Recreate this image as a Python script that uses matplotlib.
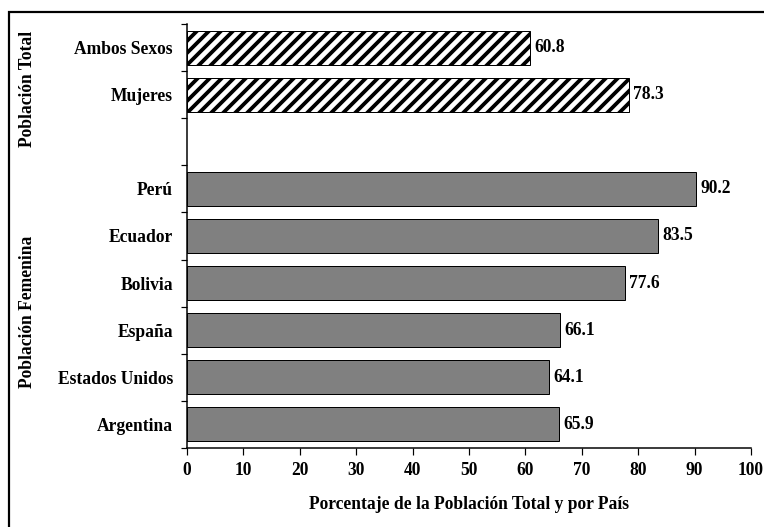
import numpy as np
import matplotlib
matplotlib.use("Agg")
import matplotlib.pyplot as plt
import matplotlib.transforms as mtransforms
from matplotlib.patches import Rectangle

plt.rcParams['font.family'] = ['Liberation Serif', 'DejaVu Serif']
plt.rcParams['font.weight'] = 'bold'
plt.rcParams['hatch.linewidth'] = 3.8

# data
total_labels = ['Ambos Sexos', 'Mujeres']
total_values = [60.8, 78.3]
country_labels = ['Perú', 'Ecuador', 'Bolivia', 'España', 'Estados Unidos', 'Argentina']
country_values = [90.2, 83.5, 77.6, 66.1, 64.1, 65.9]
group_names = ['Población Total', 'Población Femenina']
xlabel = 'Porcentaje de la Población Total y por País'
xticks = list(range(0, 101, 10))

W, H, DPI = 764, 527, 72
fig = plt.figure(figsize=(W / DPI, H / DPI), dpi=DPI)
ax = fig.add_axes([187 / W, 1 - 448 / H, (751 - 187) / W, (448 - 24) / H])

fs = 17.5
pos_total = np.arange(len(total_labels))
pos_country = np.arange(len(country_labels)) + len(total_labels) + 1

ax.barh(pos_total, total_values, height=0.72, color='white', edgecolor='black',
        hatch='//', linewidth=1)
ax.barh(pos_country, country_values, height=0.72, color='#808080', edgecolor='black',
        linewidth=1)

for p, v in zip(list(pos_total) + list(pos_country), total_values + country_values):
    ax.annotate(f'{v:.1f}', (v, p), xytext=(4.5, 0), textcoords='offset points',
                va='center', ha='left', fontsize=fs, fontweight='bold')

n = len(total_labels) + 1 + len(country_labels)
ax.set_ylim(n - 0.5, -0.5)
ax.set_xlim(0, 100)

ax.set_yticks(list(pos_total) + list(pos_country))
ax.set_yticklabels(total_labels + country_labels, fontsize=fs, fontweight='bold')
ax.tick_params(axis='y', which='major', length=0, pad=14)
ax.set_yticks(np.arange(-0.5, n, 1.0), minor=True)
ax.tick_params(axis='y', which='minor', length=6, width=1.2, direction='out')

ax.set_xticks(xticks)
ax.set_xticklabels([str(t) for t in xticks], fontsize=fs, fontweight='bold')
ax.tick_params(axis='x', length=7, width=1.2, direction='out', pad=7)
ax.set_xlabel(xlabel, fontsize=fs, fontweight='bold', labelpad=17)

for s in ['top', 'right']:
    ax.spines[s].set_visible(False)
for s in ['left', 'bottom']:
    ax.spines[s].set_linewidth(1.5)

trans = mtransforms.blended_transform_factory(fig.transFigure, ax.transData)
ax.text(28 / W, 0.88, group_names[0], transform=trans, rotation=90,
        ha='center', va='center', fontsize=fs, fontweight='bold')
ax.text(28 / W, 5.6, group_names[1], transform=trans, rotation=90,
        ha='center', va='center', fontsize=fs, fontweight='bold')

# outer frame (cut off at the right and bottom edges)
frame = Rectangle((8.5 / W, -0.1), 1.2, 1 - 11.5 / H + 0.1, transform=fig.transFigure,
                  fill=False, edgecolor='black', linewidth=2.2, clip_on=False)
fig.add_artist(frame)

fig.savefig('out.png', dpi=DPI)
